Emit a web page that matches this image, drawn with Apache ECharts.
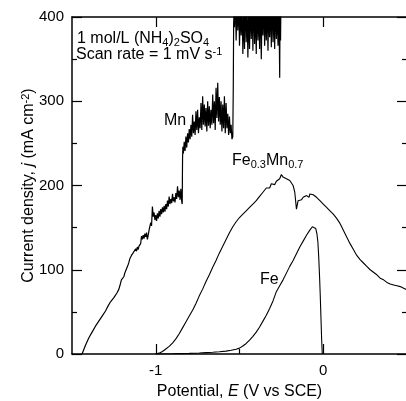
<!DOCTYPE html>
<html>
<head>
<meta charset="utf-8">
<script src="https://cdn.jsdelivr.net/npm/echarts@6/dist/echarts.min.js"></script>
<style>html,body{margin:0;padding:0;background:#fff}#c{width:406px;height:401px}</style>
</head>
<body>
<div id="c"></div>
<script>
// ---- data (E in V vs SCE, j in mA cm^-2) ----
var xTickLabels = [-1, 0];
var xMinorTicks = [-0.5];
var yTicks = [0, 100, 200, 300, 400];

var mnCurve = [
[-1.44,0],[-1.42,10],[-1.40,19],[-1.38,26],[-1.36,33],[-1.34,39],[-1.32,45],[-1.30,51],[-1.29,55],[-1.28,57],[-1.27,62],
[-1.26,63],[-1.25,67],[-1.24,69],[-1.23,73],[-1.225,74],[-1.22,77],[-1.215,76],[-1.21,84],[-1.205,88],[-1.20,86],
[-1.195,90],[-1.19,92],[-1.185,96],[-1.18,97],[-1.175,101],[-1.17,102],[-1.165,106],[-1.16,109],[-1.155,113],[-1.15,114],
[-1.145,117],[-1.14,115],[-1.135,120],[-1.13,121],[-1.125,119],[-1.12,125],[-1.115,122],[-1.11,127],[-1.105,124],[-1.10,128],
[-1.095,126],[-1.09,131],[-1.085,140],[-1.08,136],[-1.075,141],[-1.07,137],[-1.065,143],[-1.06,139],[-1.055,144],[-1.05,136],
[-1.045,141],[-1.04,147],[-1.035,145],[-1.03,156],[-1.025,152],[-1.02,175],[-1.015,163],[-1.01,168],[-1.005,159],[-1.00,165],
[-0.995,158],[-0.99,167],[-0.985,161],[-0.98,170],[-0.975,163],[-0.97,172],[-0.965,166],[-0.96,174],[-0.955,168],[-0.95,176],
[-0.945,169],[-0.94,178],[-0.935,172],[-0.93,182],[-0.925,175],[-0.92,187],[-0.915,178],[-0.91,184],[-0.905,179],[-0.90,190],
[-0.895,181],[-0.89,186],[-0.885,180],[-0.88,191],[-0.875,184],[-0.87,199],[-0.865,186],[-0.86,194],[-0.855,183],[-0.85,196],
[-0.845,181],[-0.842,178],[-0.84,232],[-0.838,246],[-0.835,238],[-0.83,252],[-0.825,241],[-0.82,258],[-0.815,245],[-0.81,262],
[-0.805,251],[-0.80,267],[-0.795,255],[-0.79,272],[-0.785,258],[-0.78,284],[-0.775,262],[-0.77,276],[-0.765,260],[-0.76,288],
[-0.755,266],[-0.75,290],[-0.745,262],[-0.74,281],[-0.735,268],[-0.73,298],[-0.725,266],[-0.72,306],[-0.715,272],[-0.71,296],
[-0.705,270],[-0.70,292],[-0.695,264],[-0.69,300],[-0.685,271],[-0.68,294],[-0.675,268],[-0.67,290],[-0.665,272],[-0.66,308],
[-0.655,274],[-0.65,300],[-0.645,266],[-0.64,316],[-0.635,280],[-0.63,322],[-0.625,276],[-0.62,305],[-0.615,272],[-0.61,300],
[-0.605,264],[-0.60,296],[-0.595,268],[-0.59,306],[-0.585,262],[-0.58,298],[-0.575,268],[-0.57,285],[-0.565,260],[-0.56,282],
[-0.555,262],[-0.55,272],[-0.545,255],[-0.54,258],[-0.537,320],[-0.535,392],[-0.532,410],[-0.53,388],[-0.525,425],[-0.52,372],
[-0.515,418],[-0.51,384],[-0.505,430],[-0.50,366],[-0.495,412],[-0.49,378],[-0.485,420],[-0.48,356],[-0.475,405],[-0.47,362],
[-0.465,432],[-0.46,370],[-0.455,415],[-0.45,352],[-0.445,408],[-0.44,362],[-0.435,426],[-0.43,374],[-0.425,418],[-0.42,360],
[-0.415,436],[-0.41,368],[-0.405,412],[-0.40,356],[-0.395,424],[-0.39,372],[-0.385,410],[-0.38,362],[-0.375,430],[-0.37,350],
[-0.365,414],[-0.36,378],[-0.355,420],[-0.35,366],[-0.345,408],[-0.34,372],[-0.335,426],[-0.33,360],[-0.325,412],[-0.32,376],
[-0.315,418],[-0.31,364],[-0.305,430],[-0.30,370],[-0.295,412],[-0.29,362],[-0.285,420],[-0.28,374],[-0.275,408],[-0.27,366],
[-0.265,425],[-0.26,328],[-0.258,410],[-0.255,372],[-0.252,430]
];

var feMnCurve = [
[-1.00,0],[-0.98,1],[-0.96,3],[-0.94,6],[-0.92,9],[-0.90,13],[-0.88,18],[-0.86,24],[-0.84,31],[-0.82,38],
[-0.80,45],[-0.78,52],[-0.76,60],[-0.74,69],[-0.72,77],[-0.70,86],[-0.68,94],[-0.66,103],[-0.64,111],[-0.62,120],
[-0.60,128],[-0.58,136],[-0.56,144],[-0.54,151],[-0.52,157],[-0.50,162],[-0.48,166],[-0.46,170],[-0.44,174],[-0.42,178],
[-0.40,182],[-0.38,187],[-0.36,192],[-0.34,197],[-0.33,199],[-0.32,197],[-0.31,202],[-0.30,203],[-0.29,201],[-0.28,205],
[-0.27,204],[-0.26,208],[-0.25,213],[-0.24,210],[-0.23,212],[-0.22,208],[-0.21,209],[-0.20,206],[-0.19,205],[-0.18,200],
[-0.17,192],[-0.165,182],[-0.16,172],[-0.155,170],[-0.15,182],[-0.14,184],[-0.13,183],[-0.12,186],[-0.11,185],[-0.10,188],
[-0.09,189],[-0.085,186],[-0.08,190],[-0.07,188],[-0.06,189],[-0.05,187],[-0.04,186],[-0.03,184],[-0.02,182],[-0.01,180],
[0.00,178],[0.02,174],[0.04,170],[0.06,166],[0.08,161],[0.10,155],[0.11,151],[0.115,152],[0.12,147],[0.14,139],
[0.16,131],[0.18,124],[0.20,117],[0.22,112],[0.24,108],[0.26,104],[0.28,100],[0.30,97],[0.32,94],[0.34,90],
[0.36,88],[0.38,85],[0.40,83],[0.42,82],[0.44,81],[0.46,80],[0.48,78],[0.50,76]
];

var feCurve = [
[-1.00,0],[-0.90,0.3],[-0.80,0.8],[-0.74,1.2],[-0.70,1.6],[-0.66,2],[-0.62,2.6],[-0.58,3.4],[-0.55,4.4],[-0.52,5.7],
[-0.50,7],[-0.48,9.5],[-0.46,12.5],[-0.44,16.5],[-0.42,21],[-0.40,26],[-0.38,32],[-0.36,39],[-0.34,46],[-0.32,54],
[-0.30,63],[-0.28,74],[-0.26,81],[-0.24,88],[-0.22,96],[-0.20,104],[-0.18,111],[-0.16,119],[-0.14,127],[-0.12,134],
[-0.10,141],[-0.08,147],[-0.065,151],[-0.055,152],[-0.045,149],[-0.038,143],[-0.032,133],[-0.027,115],[-0.022,92],[-0.018,70],
[-0.014,45],[-0.010,20],[-0.006,0]
];

var FONT = 'Liberation Sans, Arial, sans-serif';
var FS = 16;   // names and annotations
var TFS = 15;  // tick labels
var chart = echarts.init(document.getElementById('c'), null, {renderer: 'canvas'});

function xAx(pos, ticks, len, labels, line) {
  return {
    type: 'value', position: pos, min: -1.5, max: 0.5, interval: 0.5,
    axisLine: {show: line, onZero: false, lineStyle: {color: '#000', width: 1.5}},
    axisTick: {show: true, inside: true, length: len, customValues: ticks, lineStyle: {color: '#000', width: 1.2}},
    axisLabel: labels ? {show: true, customValues: xTickLabels, margin: 9, color: '#000', fontSize: TFS, fontFamily: FONT} : {show: false},
    splitLine: {show: false}
  };
}

var option = {
  animation: false,
  backgroundColor: '#fff',
  grid: {left: 72, right: -1, top: 17, bottom: 47, containLabel: false, outerBoundsMode: 'none'},
  xAxis: [
    Object.assign(xAx('bottom', xTickLabels, 10, true, true), {
      name: 'Potential, {i|E} (V vs SCE)', nameLocation: 'middle', nameGap: 30, nameMoveOverlap: false,
      nameTextStyle: {color: '#000', fontSize: FS, fontFamily: FONT,
        rich: {i: {fontStyle: 'italic', color: '#000', fontSize: FS, fontFamily: FONT}}}
    }),
    xAx('top', xTickLabels, 10, false, true),
    xAx('bottom', xMinorTicks, 5, false, false),
    xAx('top', xMinorTicks, 5, false, false)
  ],
  yAxis: [
    {
      type: 'value', position: 'left', min: 0, max: 400, interval: 100,
      name: 'Current density, {i|j} (mA cm{sup|-2})', nameLocation: 'middle', nameGap: 34, nameRotate: 90, nameMoveOverlap: false,
      nameTextStyle: {color: '#000', fontSize: FS, fontFamily: FONT, lineHeight: 18,
        rich: {
          i: {fontStyle: 'italic', color: '#000', fontSize: FS, fontFamily: FONT, lineHeight: 18},
          sup: {color: '#000', fontSize: 11, fontFamily: FONT, lineHeight: 10, verticalAlign: 'top'}
        }},
      axisLine: {show: true, onZero: false, lineStyle: {color: '#000', width: 1.5}},
      axisTick: {show: true, inside: true, length: 10, lineStyle: {color: '#000', width: 1.2}},
      minorTick: {show: true, splitNumber: 2, length: 5, lineStyle: {color: '#000', width: 1.2}},
      axisLabel: {show: true, margin: 8, color: '#000', fontSize: TFS, fontFamily: FONT},
      splitLine: {show: false}
    },
    {
      type: 'value', position: 'right', min: 0, max: 400, interval: 100,
      axisLine: {show: true, onZero: false, lineStyle: {color: '#000', width: 1.5}},
      axisTick: {show: true, inside: true, length: 10, lineStyle: {color: '#000', width: 1.2}},
      minorTick: {show: true, splitNumber: 2, length: 5, lineStyle: {color: '#000', width: 1.2}},
      axisLabel: {show: false},
      splitLine: {show: false}
    }
  ],
  series: [
    {name: 'Mn', type: 'line', data: mnCurve, showSymbol: false, symbol: 'none', clip: true,
     lineStyle: {color: '#000', width: 1.2}, xAxisIndex: 0, yAxisIndex: 0},
    {name: 'Fe0.3Mn0.7', type: 'line', data: feMnCurve, showSymbol: false, symbol: 'none', clip: true,
     lineStyle: {color: '#000', width: 1.1}, xAxisIndex: 0, yAxisIndex: 0},
    {name: 'Fe', type: 'line', data: feCurve, showSymbol: false, symbol: 'none', clip: true,
     lineStyle: {color: '#000', width: 1.1}, xAxisIndex: 0, yAxisIndex: 0}
  ]
};

function richT(left, top, text) {
  var base = {fontSize: FS, fontFamily: FONT, fill: '#000', lineHeight: 18};
  return {
    type: 'text', left: left, top: top, silent: true,
    style: {
      text: text,
      rich: {
        n: base,
        sub: {fontSize: 11, fontFamily: FONT, fill: '#000', lineHeight: 10, verticalAlign: 'bottom'},
        sup: {fontSize: 11, fontFamily: FONT, fill: '#000', lineHeight: 10, verticalAlign: 'top'}
      }
    }
  };
}

option.graphic = [
  richT(77, 31, '{n|1 mol/L (NH}{sub|4}{n|)}{sub|2}{n|SO}{sub|4}'),
  richT(76, 46, '{n|Scan rate = 1 mV s}{sup|-1}'),
  richT(164, 113, '{n|Mn}'),
  richT(232, 153, '{n|Fe}{sub|0.3}{n|Mn}{sub|0.7}'),
  richT(260, 272, '{n|Fe}')
];

chart.setOption(option);
</script>
</body>
</html>
